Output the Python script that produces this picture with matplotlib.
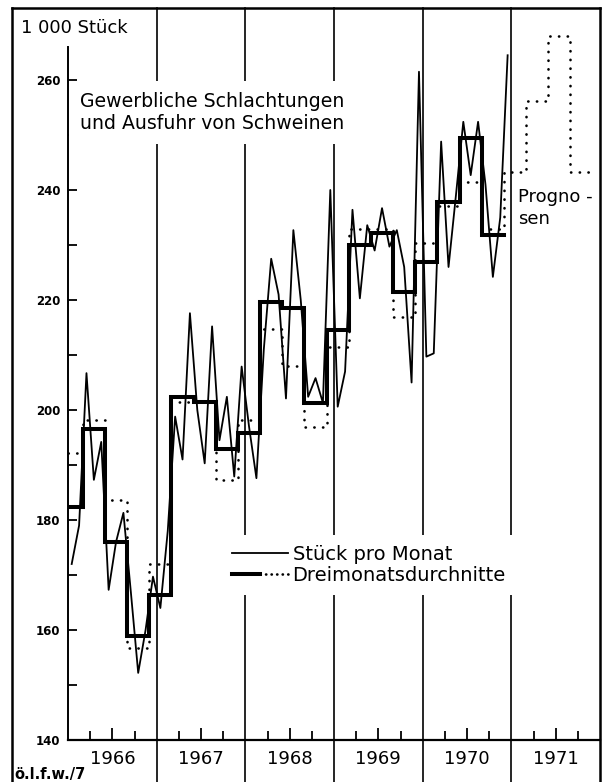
import matplotlib
matplotlib.use("Agg")
import matplotlib.pyplot as plt
from matplotlib.legend_handler import HandlerTuple
from matplotlib.lines import Line2D
import numpy as np

plt.rcParams['font.family'] = ['DejaVu Sans']

# ---------------- data (1 000 Stück) ----------------
first_year = 1966
monthly_1966 = [172, 179, 206.7, 187.3, 194.2, 167.3, 176, 181.3, 167, 152.2, 160, 169.7]
monthly_1967 = [164, 178, 198.8, 191, 217.6, 200, 190.3, 215.2, 194.5, 202.4, 187.9, 207.9]
monthly_1968 = [197, 187.6, 211, 227.5, 221, 202.1, 232.7, 220, 202.4, 205.8, 201.3, 240]
monthly_1969 = [200.6, 207, 236.4, 220.3, 233.6, 229, 236.7, 229.7, 232.7, 226, 205, 261.5]
monthly_1970 = [209.7, 210.3, 248.8, 226, 239, 252.4, 242.7, 252.4, 241, 224.2, 235, 264.5]

# three-month averages (Dec-Feb, Mar-May, Jun-Aug, Sep-Nov), 1966-1970
three_month_avg = [182.4, 196.5, 176, 159,
                   166.4, 202.4, 201.5, 193,
                   195.8, 219.7, 218.5, 201.3,
                   214.5, 230, 232.2, 221.5,
                   227, 237.9, 249.5, 231.8]
# forecasts for the same seasons, continued into 1971
forecast = [192.2, 198.2, 183.6, 156.7,
            172, 201.5, 201.5, 187.3,
            198.2, 214.7, 208, 197,
            211.5, 233, 233, 217,
            230.4, 237.1, 241.5, 233,
            243.3, 256.2, 268, 243.3]

year_labels = ['1966', '1967', '1968', '1969', '1970', '1971']
y_major = [140, 160, 180, 200, 220, 240, 260]
y_minor = [150, 170, 190, 210, 230, 250]

monthly = monthly_1966 + monthly_1967 + monthly_1968 + monthly_1969 + monthly_1970
month_x = first_year + (np.arange(len(monthly)) + 0.5) / 12
# seasons end with February, May, August, November
avg_edges = np.concatenate([[first_year], first_year + (2 + 3 * np.arange(len(three_month_avg))) / 12])
fc_edges = np.concatenate([[first_year], first_year + (2 + 3 * np.arange(len(forecast))) / 12])

# ---------------- figure ----------------
W, H = 602, 782
fig = plt.figure(figsize=(W / 100, H / 100), dpi=100)


def fx(px):
    return px / W


def fy(py):
    return 1 - py / H


ax_left, ax_right, ax_top, ax_bottom = 68, 600, 8, 740
ax = fig.add_axes([fx(ax_left), fy(ax_bottom), (ax_right - ax_left) / W, (ax_bottom - ax_top) / H])
ax.set_xlim(first_year, first_year + 6)
ax.set_ylim(140, 140 + (ax_bottom - ax_top) / 5.5)

# year separators (extending below the axis)
for yr in range(first_year + 1, first_year + 6):
    ax.plot([yr, yr], [-0.06, 1], transform=ax.get_xaxis_transform(), color='black',
            lw=1.2, clip_on=False, zorder=1)

# series
ax.plot(fc_edges, np.append(forecast, forecast[-1]), drawstyle='steps-post', color='black',
        lw=1.9, linestyle=(0, (0.1, 3.2)), dash_capstyle='round', zorder=2)
ax.plot(month_x, monthly, color='black', lw=1.3, zorder=3)
ax.plot(avg_edges, np.append(three_month_avg, three_month_avg[-1]), drawstyle='steps-post',
        color='black', lw=2.9, solid_joinstyle='miter', zorder=4)

# spines
for s in ['top', 'right']:
    ax.spines[s].set_visible(False)
ax.spines['left'].set_bounds(140, 266)
ax.spines['left'].set_linewidth(1.4)
ax.spines['bottom'].set_linewidth(1.6)
ax.spines['left'].set_zorder(6)

# y ticks
ax.set_yticks(y_major)
ax.set_yticks(y_minor, minor=True)
ax.set_yticklabels([str(v) for v in y_major], fontsize=8.5, fontweight='bold')
ax.tick_params(axis='y', which='both', direction='in', length=6.5, width=1.3, pad=5.5)

# x ticks: quarters, mid-year longer, labelled with the year
ax.set_xticks([first_year + i + 0.5 for i in range(6)])
ax.set_xticklabels(year_labels, fontsize=13)
ax.set_xticks([first_year + i + q for i in range(6) for q in (0.25, 0.75)], minor=True)
ax.tick_params(axis='x', which='major', direction='in', length=8.5, width=1.3, pad=7)
ax.tick_params(axis='x', which='minor', direction='in', length=6.3, width=1.3)

# texts
fig.text(fx(21), fy(33), '1 000 Stück', fontsize=13, ha='left', va='baseline')
ax.text(fx(80), fy(92), 'Gewerbliche Schlachtungen\nund Ausfuhr von Schweinen', fontsize=13.6,
        ha='left', va='top', linespacing=1.18, zorder=5, transform=fig.transFigure,
        bbox=dict(facecolor='white', edgecolor='none', pad=8))
fig.text(fx(518), fy(188), 'Progno -\nsen', fontsize=13, ha='left', va='top', linespacing=1.25)
fig.text(fx(14), fy(779), 'ö.l.f.w./7', fontsize=10.5, fontweight='bold', ha='left', va='baseline')

# legend
h_thin = Line2D([], [], color='black', lw=1.3)
h_thick = Line2D([], [], color='black', lw=2.9)
h_dot = Line2D([], [], color='black', lw=1.9, linestyle=(0, (0.1, 2.0)), dash_capstyle='round')
leg = ax.legend([h_thin, (h_thick, h_dot)], ['Stück pro Monat', 'Dreimonatsdurchnitte'],
                handler_map={tuple: HandlerTuple(ndivide=2, pad=0)},
                loc='center', bbox_to_anchor=(fx(369), fy(565)), bbox_transform=fig.transFigure,
                fontsize=14, frameon=True, fancybox=False, edgecolor='none', facecolor='white',
                framealpha=1, handlelength=2.85, handletextpad=0.25, labelspacing=0.1,
                borderpad=0.5)
leg.set_zorder(5)

# outer frame
frame_kw = dict(color='black', lw=1.8, transform=fig.transFigure)
fig.add_artist(Line2D([fx(12), fx(12)], [0, fy(8)], **frame_kw))
fig.add_artist(Line2D([fx(12), fx(600)], [fy(8), fy(8)], **frame_kw))
fig.add_artist(Line2D([fx(600), fx(600)], [0, fy(8)], **frame_kw))

fig.savefig('out.png', dpi=100, facecolor='white')
